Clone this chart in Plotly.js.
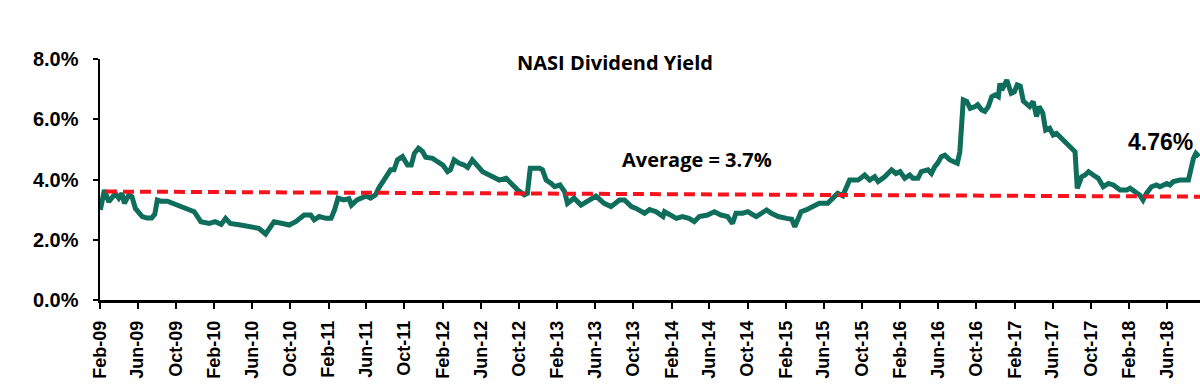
<!DOCTYPE html>
<html>
<head>
<meta charset="utf-8">
<script src="https://cdn.plot.ly/plotly-3.0.1.min.js"></script>
<style>html,body{margin:0;padding:0;background:#fff;}#chart{width:1200px;height:390px;}</style>
</head>
<body>
<div id="chart"></div>
<script>
const dates = [
"2009-02-02","2009-02-15","2009-03-01","2009-03-22","2009-04-02","2009-04-12","2009-04-20","2009-05-04","2009-05-14","2009-05-25",
"2009-06-16","2009-07-01","2009-07-16","2009-07-26","2009-08-03","2009-08-14","2009-09-04","2009-09-20","2009-10-17","2009-11-07",
"2009-11-29","2009-12-20","2010-01-16","2010-02-04","2010-02-23","2010-03-09","2010-03-24","2010-04-26","2010-05-28","2010-06-23",
"2010-07-15","2010-07-25","2010-08-11","2010-09-07","2010-09-28","2010-10-19","2010-11-15","2010-12-06","2010-12-17","2011-01-02",
"2011-01-24","2011-02-09","2011-02-20","2011-03-03","2011-03-21","2011-04-07","2011-04-15","2011-05-03","2011-05-19","2011-06-01",
"2011-06-15","2011-07-01","2011-07-11","2011-08-02","2011-08-18","2011-08-29","2011-09-09","2011-09-25","2011-10-11","2011-10-23",
"2011-11-02","2011-11-15","2011-11-28","2011-12-08","2011-12-30","2012-01-15","2012-02-01","2012-02-16","2012-02-25","2012-03-08",
"2012-03-24","2012-04-09","2012-04-20","2012-05-05","2012-05-21","2012-06-07","2012-06-28","2012-07-19","2012-07-30","2012-08-21",
"2012-09-11","2012-09-27","2012-10-18","2012-10-28","2012-11-06","2012-12-06","2012-12-15","2012-12-27","2013-01-12","2013-01-23",
"2013-02-09","2013-02-24","2013-03-05","2013-03-26","2013-04-17","2013-05-13","2013-06-04","2013-06-30","2013-07-22","2013-08-18",
"2013-09-03","2013-09-25","2013-10-10","2013-11-06","2013-11-22","2013-12-13","2014-01-04","2014-01-09","2014-01-25","2014-02-16",
"2014-03-07","2014-03-28","2014-04-14","2014-04-30","2014-05-26","2014-06-17","2014-07-08","2014-07-29","2014-08-14","2014-08-25",
"2014-09-16","2014-10-02","2014-10-29","2014-12-01","2014-12-16","2015-01-07","2015-02-03","2015-02-19","2015-03-01","2015-03-21",
"2015-04-06","2015-04-27","2015-05-18","2015-06-14","2015-06-28","2015-07-16","2015-08-01","2015-08-12","2015-08-23","2015-09-19",
"2015-10-10","2015-10-26","2015-11-11","2015-11-22","2015-12-13","2016-01-04","2016-01-18","2016-01-31","2016-02-15","2016-03-02",
"2016-03-12","2016-03-28","2016-04-08","2016-04-29","2016-05-10","2016-05-21","2016-05-30","2016-06-11","2016-06-22","2016-07-08",
"2016-07-24","2016-08-01","2016-08-09","2016-08-20","2016-08-31","2016-09-11","2016-09-27","2016-10-05","2016-10-18","2016-10-28",
"2016-11-08","2016-11-19","2016-11-30","2016-12-10","2016-12-15","2016-12-21","2017-01-06","2017-01-20","2017-01-30","2017-02-08",
"2017-02-18","2017-02-28","2017-03-20","2017-03-31","2017-04-11","2017-04-19","2017-05-01","2017-05-10","2017-05-23","2017-06-03",
"2017-06-14","2017-06-30","2017-07-15","2017-08-01","2017-08-12","2017-08-19","2017-09-02","2017-09-13","2017-09-24","2017-10-09",
"2017-10-25","2017-11-10","2017-11-27","2017-12-12","2018-01-03","2018-01-24","2018-02-04","2018-02-26","2018-03-06","2018-03-17",
"2018-03-28","2018-04-13","2018-04-29","2018-05-10","2018-06-01","2018-06-11","2018-06-22","2018-07-13","2018-08-09","2018-08-25",
"2018-09-02","2018-09-12"
];
const dividendYield = [
2.99,3.65,3.26,3.54,3.38,3.54,3.21,3.49,3.43,3.04,
2.77,2.72,2.72,2.85,3.32,3.28,3.28,3.21,3.12,2.99,
2.93,2.60,2.54,2.60,2.51,2.71,2.54,2.49,2.43,2.38,
2.19,2.32,2.60,2.54,2.49,2.60,2.82,2.82,2.66,2.77,
2.71,2.71,2.99,3.38,3.32,3.36,3.15,3.32,3.38,3.45,
3.38,3.49,3.71,4.09,4.32,4.32,4.65,4.76,4.48,4.48,
4.87,5.04,4.93,4.74,4.70,4.59,4.48,4.26,4.32,4.65,
4.54,4.48,4.40,4.65,4.48,4.26,4.15,4.04,3.98,4.04,
3.82,3.65,3.49,3.54,4.37,4.37,4.32,3.98,3.87,3.76,
3.82,3.59,3.21,3.38,3.15,3.32,3.45,3.21,3.10,3.32,
3.32,3.10,3.04,2.88,3.00,2.93,2.77,2.93,2.82,2.71,
2.77,2.71,2.60,2.77,2.82,2.93,2.82,2.77,2.54,2.88,
2.88,2.93,2.77,2.99,2.88,2.77,2.71,2.68,2.43,2.93,
2.99,3.10,3.21,3.21,3.38,3.54,3.46,3.71,3.98,3.98,
4.15,3.98,4.09,3.93,4.09,4.32,4.20,4.26,4.04,4.15,
4.04,4.04,4.26,4.32,4.20,4.43,4.54,4.76,4.81,4.65,
4.59,4.54,4.92,6.64,6.59,6.36,6.42,6.48,6.31,6.26,
6.42,6.75,6.81,6.75,7.19,6.97,7.30,6.86,6.91,7.14,
7.10,6.60,6.42,6.59,6.09,6.42,6.20,5.64,5.70,5.48,
5.53,5.37,5.20,5.03,4.92,3.71,4.09,4.15,4.26,4.15,
4.04,3.76,3.87,3.82,3.65,3.65,3.71,3.54,3.49,3.32,
3.54,3.76,3.82,3.76,3.87,3.82,3.93,3.98,3.98,4.70,
4.87,4.76
];
const averageDates = ["2009-02-20","2018-09-15"];
const averageLine = [3.60, 3.43];
const chartTitle = "NASI Dividend Yield";
const averageLabel = "Average = 3.7%";
const latestLabel = "4.76%";

const traces = [
  {x: dates, y: dividendYield, type: "scatter", mode: "lines",
   line: {color: "#0f6d5b", width: 5}, hoverinfo: "skip", showlegend: false},
  {x: averageDates, y: averageLine, type: "scatter", mode: "lines",
   line: {color: "#f5141e", width: 4, dash: "11px,6px"}, hoverinfo: "skip", showlegend: false}
];

const layout = {
  width: 1200, height: 390,
  margin: {l: 100, r: 0, t: 59, b: 90, pad: 0},
  paper_bgcolor: "#ffffff", plot_bgcolor: "#ffffff",
  title: {text: "<b>" + chartTitle + "</b>", x: 615/1200, xanchor: "center", xref: "container",
          y: 1 - 63/390, yanchor: "middle",
          font: {family: "Open Sans, Liberation Sans, sans-serif", size: 20, color: "#000"}},
  xaxis: {
    type: "date", range: ["2009-02-01", "2018-09-15"],
    tick0: "2009-02-01", dtick: "M4", tickformat: "%b-%y", tickangle: -90,
    ticks: "outside", ticklen: 6, tickwidth: 2, tickcolor: "#000", ticklabelstandoff: 5,
    showline: true, linecolor: "#000", linewidth: 2.5, showgrid: false, zeroline: false,
    tickfont: {family: "Liberation Sans, Arial, sans-serif", size: 18, color: "#000", weight: "bold"}
  },
  yaxis: {
    range: [0, 8], tick0: 0, dtick: 2, tickformat: ".1f", ticksuffix: "%",
    ticks: "outside", ticklen: 5, tickwidth: 2, tickcolor: "#000", ticklabelstandoff: 10,
    showline: true, linecolor: "#000", linewidth: 2.5, showgrid: false, zeroline: false,
    tickfont: {family: "Liberation Sans, Arial, sans-serif", size: 20, color: "#000", weight: "bold"}
  },
  annotations: [
    {x: "2014-04-24", y: 4.65, xref: "x", yref: "y", text: "<b>" + averageLabel + "</b>",
     showarrow: false, xanchor: "center", yanchor: "middle",
     font: {family: "Open Sans, Liberation Sans, sans-serif", size: 20, color: "#000"}},
    {x: "2018-05-13", y: 5.24, xref: "x", yref: "y", text: "<b>" + latestLabel + "</b>",
     showarrow: false, xanchor: "center", yanchor: "middle",
     font: {family: "Liberation Sans, Arial, sans-serif", size: 23, color: "#000"}}
  ]
};

Plotly.newPlot("chart", traces, layout, {displayModeBar: false, staticPlot: true});
</script>
</body>
</html>
